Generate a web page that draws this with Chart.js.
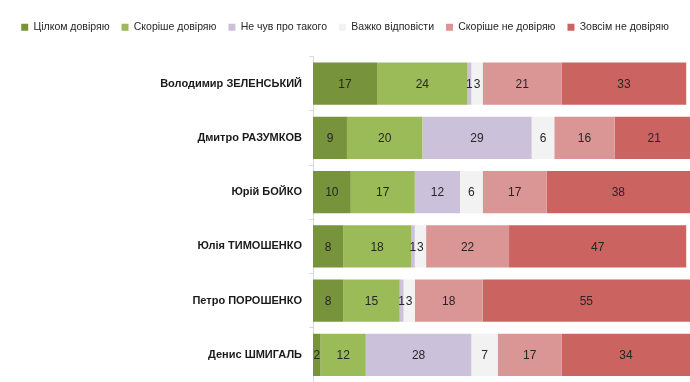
<!DOCTYPE html>
<html>
<head>
<meta charset="utf-8">
<script src="https://cdn.jsdelivr.net/npm/chart.js@4"></script>
<style>
  html, body { margin: 0; padding: 0; background: #fff; }
  #wrap { width: 690px; height: 382px; position: relative; }
</style>
</head>
<body>
<div id="wrap"><canvas id="chart"></canvas></div>
<script>
// Trust survey – stacked horizontal bars, % of respondents
const politicians = [
  'Володимир ЗЕЛЕНСЬКИЙ',
  'Дмитро РАЗУМКОВ',
  'Юрій БОЙКО',
  'Юлія ТИМОШЕНКО',
  'Петро ПОРОШЕНКО',
  'Денис ШМИГАЛЬ',
]

const seriesNames = [
  'Цілком довіряю',
  'Скоріше довіряю',
  'Не чув про такого',
  'Важко відповісти',
  'Скоріше не довіряю',
  'Зовсім не довіряю',
]

const fullyTrust = [17, 9, 10, 8, 8, 2]
const ratherTrust = [24, 20, 17, 18, 15, 12]
const neverHeard = [1, 29, 12, 1, 1, 28]
const hardToSay = [3, 6, 6, 3, 3, 7]
const ratherDistrust = [21, 16, 17, 22, 18, 17]
const fullyDistrust = [33, 21, 38, 47, 55, 34]

const seriesValues = [fullyTrust, ratherTrust, neverHeard, hardToSay, ratherDistrust, fullyDistrust]
const seriesColors = ['#77933c', '#9bbb59', '#ccc1da', '#f2f2f2', '#d99694', '#cb6461']

const FONT = '"Liberation Sans", Arial, sans-serif'

// draw the value in the middle of every segment
const segmentLabels = {
  id: 'segmentLabels',
  afterDatasetsDraw(chart) {
    const ctx = chart.ctx
    ctx.save()
    ctx.font = '12px ' + FONT
    ctx.fillStyle = '#262626'
    ctx.textAlign = 'center'
    ctx.textBaseline = 'middle'
    chart.data.datasets.forEach((ds, i) => {
      chart.getDatasetMeta(i).data.forEach((bar, j) => {
        const x = (bar.x + bar.base) / 2
        ctx.fillText(String(ds.data[j]), x, bar.y + 1)
      })
    })
    ctx.restore()
  },
}

// push the plot area down below the legend, as in the source chart
const legendGap = {
  id: 'legendGap',
  beforeInit(chart) {
    const fit = chart.legend && chart.legend.fit
    if (fit) {
      chart.legend.fit = function () {
        fit.call(this)
        this.height += 14
      }
    }
  },
}

new Chart(document.getElementById('chart'), {
  type: 'bar',
  data: {
    labels: politicians,
    datasets: seriesNames.map((name, i) => ({
      label: name,
      data: seriesValues[i],
      backgroundColor: seriesColors[i],
      borderWidth: 0,
      barPercentage: 0.78,
      categoryPercentage: 1,
    })),
  },
  options: {
    indexAxis: 'y',
    responsive: true,
    maintainAspectRatio: false,
    animation: false,
    layout: { padding: { top: 10, right: 0, bottom: 0, left: 0 } },
    plugins: {
      legend: {
        position: 'top',
        labels: {
          boxWidth: 7,
          boxHeight: 7,
          padding: 12,
          color: '#262626',
          font: { size: 10.5, family: FONT },
        },
      },
      tooltip: { enabled: false },
    },
    scales: {
      x: {
        stacked: true,
        display: false,
        min: 0,
        max: 100,
      },
      y: {
        stacked: true,
        afterFit(scale) {
          scale.width = 313
          // bars run right down to the bottom edge
          scale.paddingTop = 0
          scale.paddingBottom = 0
        },
        grid: {
          offset: true,
          drawOnChartArea: false,
          tickLength: 4,
          color: '#d9d9d9',
        },
        border: { color: '#d9d9d9' },
        ticks: {
          color: '#1a1a1a',
          padding: 7,
          font: { size: 11, weight: 'bold', family: FONT },
        },
      },
    },
  },
  plugins: [segmentLabels, legendGap],
})
</script>
</body>
</html>
